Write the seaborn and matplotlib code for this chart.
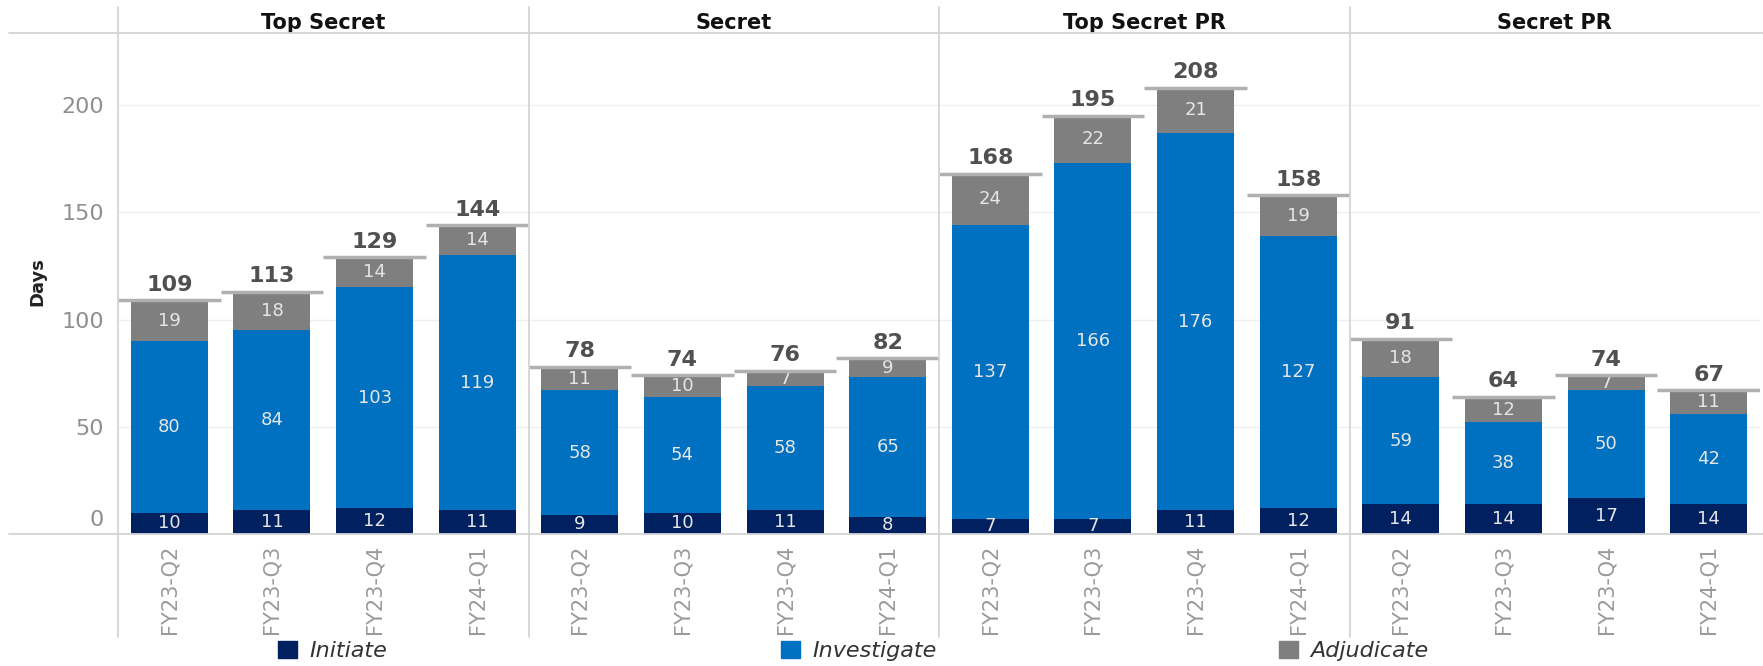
import numpy as np
import pandas as pd
import matplotlib.pyplot as plt
from matplotlib.lines import Line2D
from matplotlib.patches import Patch
import matplotlib.transforms as mtransforms
import seaborn as sns

# --- DATA ---
quarters = ['FY23-Q2', 'FY23-Q3', 'FY23-Q4', 'FY24-Q1']
panels = ['Top Secret', 'Secret', 'Top Secret PR', 'Secret PR']
initiate = [[10, 11, 12, 11], [9, 10, 11, 8], [7, 7, 11, 12], [14, 14, 17, 14]]
investigate = [[80, 84, 103, 119], [58, 54, 58, 65], [137, 166, 176, 127], [59, 38, 50, 42]]
adjudicate = [[19, 18, 14, 14], [11, 10, 7, 9], [24, 22, 21, 19], [18, 12, 7, 11]]
y_ticks = [0, 50, 100, 150, 200]

# --- STYLE ---
C_INIT = '#002060'
C_INV = '#0070c0'
C_ADJ = '#7f7f7f'
LINE_C = '#d4d4d4'
W, H = 1763, 666

sns.set_theme(style='white')
plt.rcParams['font.family'] = ['DejaVu Sans']

fig = plt.figure(figsize=(W / 100, H / 100), dpi=100)

# panel geometry in pixels
x0, x1 = 118, 1760
y_top, y_base = 33, 534
pw = (x1 - x0) / len(panels)
ymax = 233.6

for p, name in enumerate(panels):
    ax = fig.add_axes([(x0 + p * pw) / W, (H - y_base) / H, pw / W, (y_base - y_top) / H])
    df = pd.DataFrame({
        'quarter': quarters,
        'init': initiate[p],
        'inv': investigate[p],
        'adj': adjudicate[p],
    })
    df['inv_top'] = df['init'] + df['inv']
    df['total'] = df['inv_top'] + df['adj']

    # stacked bars drawn back-to-front
    bar_kw = dict(saturation=1, width=0.75, linewidth=0, edgecolor='none', ax=ax)
    sns.barplot(data=df, x='quarter', y='total', color=C_ADJ, **bar_kw)
    sns.barplot(data=df, x='quarter', y='inv_top', color=C_INV, **bar_kw)
    sns.barplot(data=df, x='quarter', y='init', color=C_INIT, **bar_kw)

    xs = np.arange(len(quarters))
    # total reference lines + labels
    ax.hlines(df['total'], xs - 0.5, xs + 0.5, color='#b0b0b0', lw=2.5, zorder=4)
    for i, r in df.iterrows():
        ax.annotate(f"{r['total']}", (i, r['total']), xytext=(0, 4), textcoords='offset points',
                    ha='center', va='bottom', fontsize=16, color='#505050', fontweight='bold')
        ax.text(i, r['init'] / 2, f"{r['init']}", ha='center', va='center', fontsize=13, color='#e6e6e6')
        ax.text(i, r['init'] + r['inv'] / 2, f"{r['inv']}", ha='center', va='center', fontsize=13, color='#e6e6e6')
        ax.text(i, r['inv_top'] + r['adj'] / 2, f"{r['adj']}", ha='center', va='center', fontsize=13, color='#e6e6e6')

    ax.set_xlim(-0.5, len(quarters) - 0.5)
    ax.set_ylim(0, ymax)
    ax.set_yticks(y_ticks)
    ax.grid(axis='y', color='#efefef', lw=1)
    ax.set_axisbelow(True)
    ax.set_xlabel('')
    ax.set_ylabel('')
    ax.set_title(name, fontsize=15, fontweight='bold', color='#111111', pad=3)
    ax.tick_params(axis='x', labelrotation=90, labelsize=15, colors='#9a9a9a', length=0, pad=8)
    ax.tick_params(axis='y', labelsize=16, colors='#8f8f8f', length=0, pad=10)
    if p > 0:
        ax.set_yticklabels([])
    else:
        # Tableau nudges the zero label up off the baseline
        zero = ax.get_yticklabels()[0]
        zero.set_va('bottom')
        zero.set_transform(zero.get_transform() + mtransforms.ScaledTranslation(0, 3 / 72, fig.dpi_scale_trans))
    for s in ax.spines.values():
        s.set_visible(False)

# 3. Frame lines (header row, baseline, panel separators)
def fig_line(xa, ya, xb, yb):
    fig.add_artist(Line2D([xa / W, xb / W], [1 - ya / H, 1 - yb / H], color=LINE_C, lw=1.3))

fig_line(9, y_top, W, y_top)
fig_line(9, y_base, W, y_base)
for p in range(len(panels)):
    fig_line(x0 + p * pw, 7, x0 + p * pw, 637)

fig.text(37 / W, 1 - 282 / H, 'Days', rotation=90, ha='center', va='center',
         fontsize=13, fontweight='bold', color='#222222')

# 4. Legend (three separate entries spread along the bottom)
legend_items = [('Initiate', C_INIT, 267), ('Investigate', C_INV, 770), ('Adjudicate', C_ADJ, 1268)]
for label, col, px in legend_items:
    fig.legend(handles=[Patch(color=col, label=label)], loc='center left',
               bbox_to_anchor=(px / W, 1 - 651 / H), frameon=False, borderpad=0,
               handlelength=0.85, handleheight=0.85, handletextpad=0.55,
               prop={'size': 16, 'style': 'italic'}, labelcolor='#333333')

fig.savefig('out.png', dpi=100)
